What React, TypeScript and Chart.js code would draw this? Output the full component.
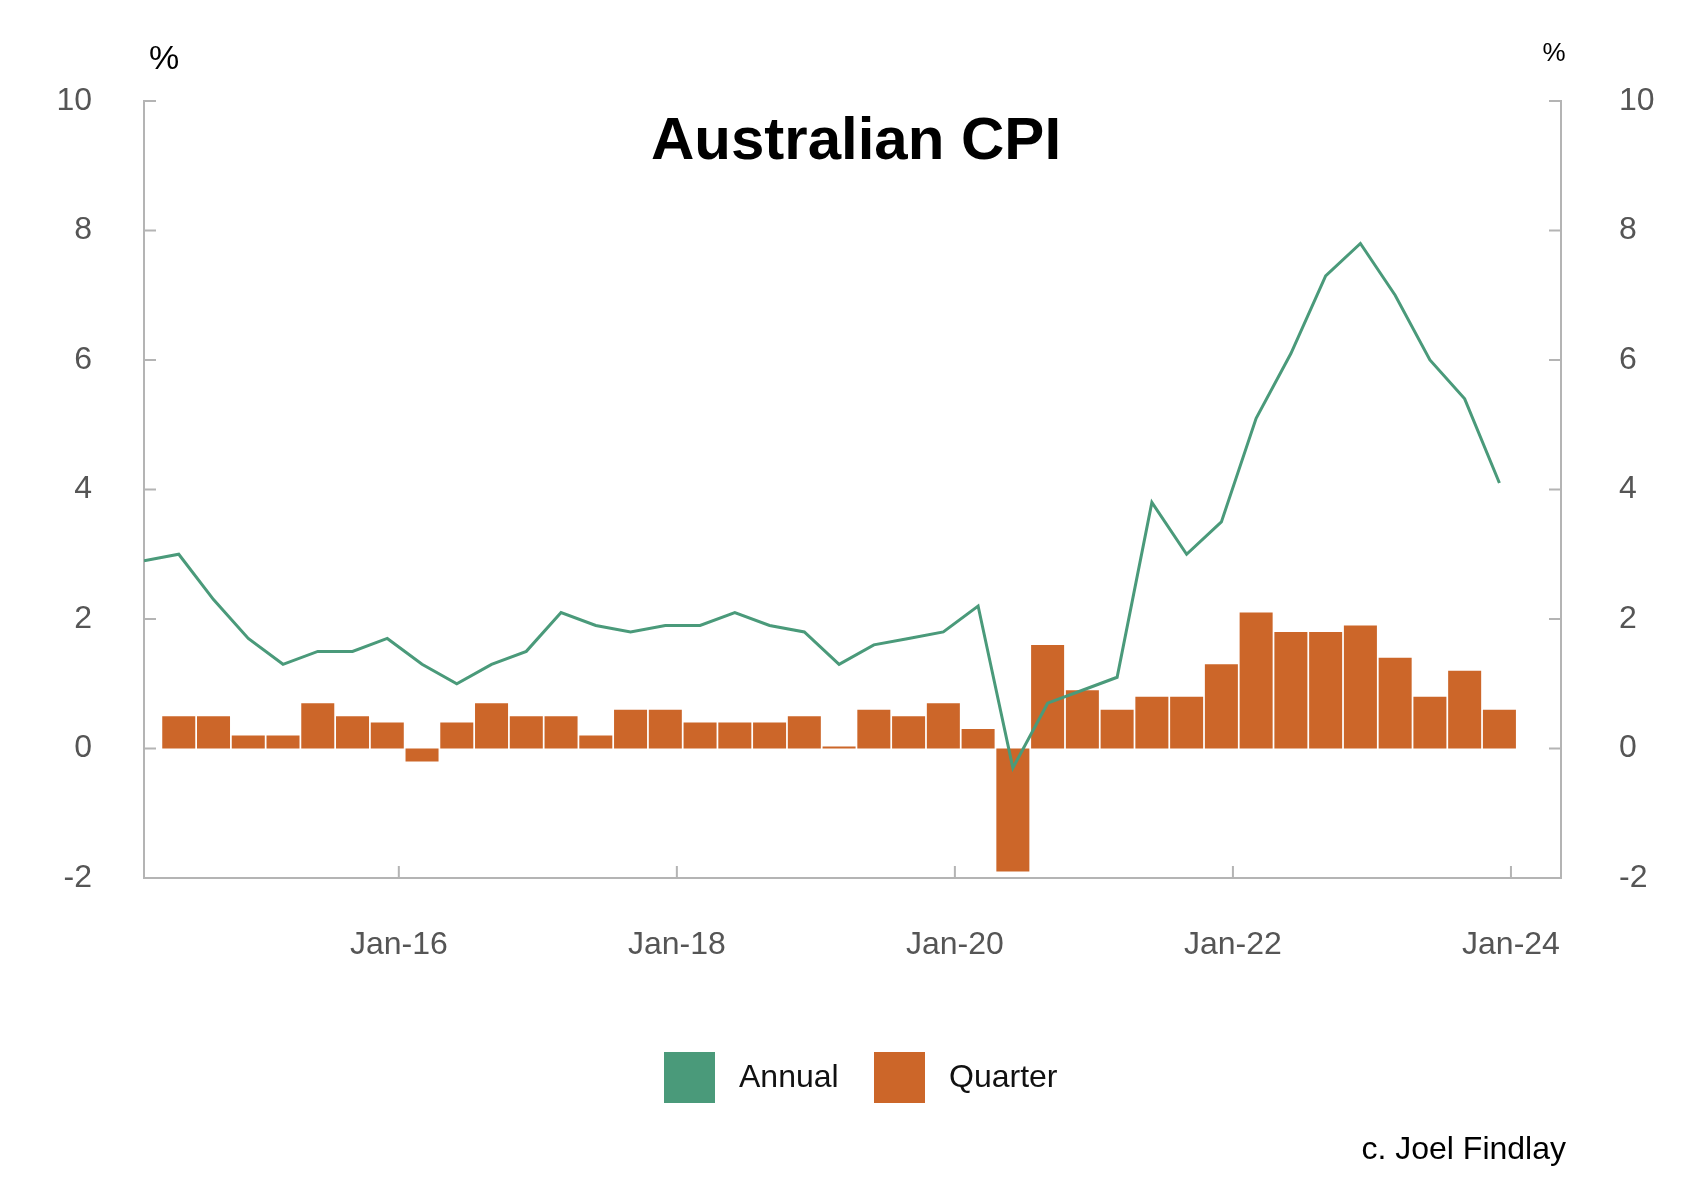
import { useEffect, useRef } from "react"
import { Chart, registerables } from "chart.js"

Chart.register(...registerables)

// quarter-end dates as decimal years (Mar = .167, Jun = .417, Sep = .667, Dec = .917)
const quarterEnds = [0.167, 0.417, 0.667, 0.917]
const years = [2014, 2015, 2016, 2017, 2018, 2019, 2020, 2021, 2022, 2023]

// Annual, Mar-14 .. Dec-23
const annual = [
  2.9, 3.0, 2.3, 1.7, 1.3, 1.5, 1.5, 1.7, 1.3, 1.0, 1.3, 1.5, 2.1, 1.9, 1.8, 1.9,
  1.9, 2.1, 1.9, 1.8, 1.3, 1.6, 1.7, 1.8, 2.2, -0.3, 0.7, 0.9, 1.1, 3.8, 3.0, 3.5,
  5.1, 6.1, 7.3, 7.8, 7.0, 6.0, 5.4, 4.1,
]
// Quarter, Jun-14 .. Dec-23
const quarter = [
  0.5, 0.5, 0.2, 0.2, 0.7, 0.5, 0.4, -0.2, 0.4, 0.7, 0.5, 0.5, 0.2, 0.6, 0.6, 0.4,
  0.4, 0.4, 0.5, 0.03, 0.6, 0.5, 0.7, 0.3, -1.9, 1.6, 0.9, 0.6, 0.8, 0.8, 1.3, 2.1,
  1.8, 1.8, 1.9, 1.4, 0.8, 1.2, 0.6,
]
const xTicks = [2016, 2018, 2020, 2022, 2024]

const dates = years.flatMap((y) => quarterEnds.map((q) => y + q))

const GREEN = "#4a9a7a"
const ORANGE = "#cc6629"
const AXIS = "#b4b4b4"
const FONT = "Liberation Sans, Arial, sans-serif"

const overlay = {
  id: "overlay",
  afterDraw(chart: any) {
    const { ctx, chartArea: a, scales } = chart
    ctx.save()
    // inward ticks
    ctx.strokeStyle = AXIS
    ctx.lineWidth = 2
    ctx.beginPath()
    for (const v of xTicks) {
      const x = scales.x.getPixelForValue(v)
      ctx.moveTo(x, a.bottom)
      ctx.lineTo(x, a.bottom - 12)
    }
    for (let v = -2; v <= 10; v += 2) {
      const y = scales.y.getPixelForValue(v)
      ctx.moveTo(a.left, y)
      ctx.lineTo(a.left + 12, y)
      ctx.moveTo(a.right, y)
      ctx.lineTo(a.right - 12, y)
    }
    ctx.stroke()

    ctx.fillStyle = "#000"
    ctx.textAlign = "center"
    ctx.textBaseline = "middle"
    ctx.font = `bold 60px ${FONT}`
    ctx.fillText("Australian CPI", 856, 142)

    ctx.font = `34px ${FONT}`
    ctx.fillText("%", 164, 60)
    ctx.font = `26px ${FONT}`
    ctx.fillText("%", 1554, 54)

    ctx.textAlign = "right"
    ctx.font = `32px ${FONT}`
    ctx.fillText("c. Joel Findlay", 1566, 1150)

    // legend
    ctx.textAlign = "left"
    const items = [
      { label: "Annual", color: GREEN, x: 664 },
      { label: "Quarter", color: ORANGE, x: 874 },
    ]
    for (const it of items) {
      ctx.fillStyle = it.color
      ctx.fillRect(it.x, 1052, 51, 51)
      ctx.fillStyle = "#111"
      ctx.fillText(it.label, it.x + 75, 1078)
    }
    ctx.restore()
  },
}

export default function App() {
  const chartRef = useRef<HTMLCanvasElement>(null)
  const chartInstance = useRef<Chart | null>(null)

  useEffect(() => {
    if (!chartRef.current) return
    if (chartInstance.current) chartInstance.current.destroy()
    const ctx = chartRef.current.getContext("2d")
    if (!ctx) return

    const tickFont = { family: FONT, size: 32 }

    chartInstance.current = new Chart(ctx, {
      type: "bar",
      data: {
        datasets: [
          {
            type: "line",
            label: "Annual",
            data: annual.map((v, i) => ({ x: dates[i], y: v })),
            borderColor: GREEN,
            borderWidth: 3,
            pointRadius: 0,
            tension: 0,
            yAxisID: "y",
            order: 0,
          },
          {
            type: "bar",
            label: "Quarter",
            data: quarter.map((v, i) => ({ x: dates[i + 1], y: v })),
            backgroundColor: ORANGE,
            barPercentage: 0.95,
            categoryPercentage: 1,
            yAxisID: "y",
            order: 1,
          },
        ] as any,
      },
      options: {
        responsive: false,
        animation: false,
        layout: { padding: { top: 101, left: 0, right: 0, bottom: 0 } },
        plugins: {
          legend: { display: false },
          tooltip: { enabled: false },
        },
        scales: {
          x: {
            type: "linear",
            min: 2014.167,
            max: 2024.36,
            offset: false,
            grid: { display: false },
            border: { display: true, color: AXIS, width: 2 },
            afterBuildTicks: (s: any) => {
              s.ticks = xTicks.map((v) => ({ value: v }))
            },
            afterFit: (s: any) => {
              s.height = 302
            },
            ticks: {
              color: "#555",
              font: tickFont,
              padding: 40,
              maxRotation: 0,
              callback: (v: any) => "Jan-" + String(v).slice(2),
            },
          },
          y: {
            position: "left",
            min: -2,
            max: 10,
            grid: { display: false },
            border: { display: true, color: AXIS, width: 2 },
            afterFit: (s: any) => {
              s.width = 144
            },
            ticks: { stepSize: 2, color: "#555", font: tickFont, padding: 44 },
          },
          y1: {
            position: "right",
            min: -2,
            max: 10,
            grid: { display: false },
            border: { display: true, color: AXIS, width: 2 },
            afterFit: (s: any) => {
              s.width = 141
            },
            ticks: { stepSize: 2, color: "#555", font: tickFont, padding: 50 },
          },
        },
      },
      plugins: [overlay],
    })

    return () => {
      if (chartInstance.current) chartInstance.current.destroy()
    }
  }, [])

  return (
    <div style={{ position: "absolute", left: 0, top: 0, width: 1702, height: 1180, background: "#fff" }}>
      <canvas ref={chartRef} width={1702} height={1180} />
    </div>
  )
}
